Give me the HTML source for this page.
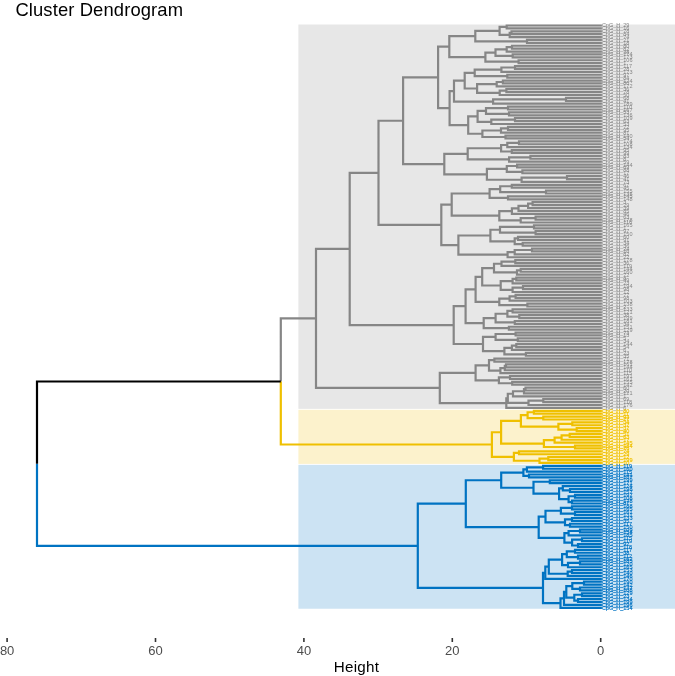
<!DOCTYPE html>
<html><head><meta charset="utf-8"><title>Cluster Dendrogram</title>
<style>
html,body{margin:0;padding:0;background:#fff;}
body{width:675px;height:676px;overflow:hidden;}
svg{display:block;will-change:transform;font-family:"Liberation Sans",sans-serif;}
.title{font-size:18.4px;fill:#000;letter-spacing:0.12px;}
.tick{font-size:13px;fill:#4D4D4D;}
.axt{font-size:15.2px;fill:#000;letter-spacing:0.3px;}
.lab{opacity:0.999;}
.lab text{font-size:5.5px;}
</style></head><body>
<svg width="675" height="676" viewBox="0 0 675 676">
<rect x="298.4" y="24.5" width="380" height="384.34" fill="#E7E7E7"/>
<rect x="298.4" y="409.8" width="380" height="54.09" fill="#FCF2CC"/>
<rect x="298.4" y="464.85" width="380" height="143.89" fill="#CCE3F3"/>
<path d="M316 318.46H280.8V381.49M349.7 248.95H316V387.97H439.8M378.5 172.8H349.7V325.1H453.7M403.1 120.74H378.5V224.86H441.3M438.1 77.38H403.1V164.09H444.3M449.3 46.67H438.1V108.1H449.6M475.3 36.17H449.3V57.17H485.4M499.6 30.92H475.3V41.42H527M506.7 26.94H499.6V34.9H509.7M601.9 25.49H506.7V28.38H601.9M511.5 32.73H509.7V37.08H601.9M601.9 31.28H511.5V34.18H601.9M601.9 39.97H527V42.87H601.9M495.5 52.65H485.4V61.7H518.6M506.7 49.39H495.5V55.91H512.7M512 47.21H506.7V51.56H601.9M601.9 45.77H512V48.66H601.9M601.9 54.46H512.7V57.35H601.9M601.9 60.25H518.6V63.15H601.9M454 91.12H449.6V125.07H468.2M464.7 80.71H454V101.53H493.1M474.7 72.93H464.7V88.5H477.1M501.4 69.67H474.7V76.18H507.3M515 67.49H501.4V71.84H601.9M601.9 66.05H515V68.94H601.9M601.9 74.74H507.3V77.63H601.9M496.7 84.15H477.1V92.84H499.7M502.9 81.98H496.7V86.32H601.9M601.9 80.53H502.9V83.43H601.9M506.4 90.67H499.7V95.02H601.9M601.9 89.22H506.4V92.12H601.9M566 99.36H493.1V103.71H601.9M601.9 97.91H566V100.81H601.9M477.6 116.38H468.2V133.76H482.4M486 110.95H477.6V121.81H491.3M508 108.05H486V113.85H509M601.9 106.6H508V109.5H601.9M601.9 112.4H509V115.29H601.9M515 119.64H491.3V123.98H601.9M601.9 118.19H515V121.09H601.9M501 130.5H482.4V137.02H505.5M508 128.33H501V132.68H601.9M601.9 126.88H508V129.78H601.9M601.9 135.57H505.5V138.47H601.9M467.7 153.86H444.3V174.32H486.9M501.1 148.25H467.7V159.47H509.1M507.3 144.99H501.1V151.51H511.8M519 142.82H507.3V147.16H601.9M601.9 141.37H519V144.26H601.9M601.9 150.06H511.8V152.95H601.9M530.4 157.3H509.1V161.65H601.9M601.9 155.85H530.4V158.75H601.9M506.8 168.89H486.9V179.75H521.6M517.1 165.99H506.8V171.79H522.4M601.9 164.54H517.1V167.44H601.9M601.9 170.34H522.4V173.23H601.9M567 177.58H521.6V181.92H601.9M601.9 176.13H567V179.03H601.9M451.7 204.6H441.3V245.12H458.4M489.6 193.51H451.7V215.69H499.3M500.2 189.17H489.6V197.86H508M511.8 186.27H500.2V192.06H546M601.9 184.82H511.8V187.72H601.9M601.9 190.62H546V193.51H601.9M601.9 196.41H508V199.31H601.9M511.9 211.08H499.3V220.31H520.7M518.5 208.36H511.9V213.79H601.9M528.1 205.83H518.5V210.89H601.9M532.6 203.65H528.1V208H601.9M601.9 202.2H532.6V205.1H601.9M535.6 218.14H520.7V222.48H601.9M601.9 216.69H535.6V219.59H601.9M490.4 235.52H458.4V254.71H507.6M500 229.73H490.4V241.31H514.7M534 226.83H500V232.62H535.6M601.9 225.38H534V228.28H601.9M601.9 231.17H535.6V234.07H601.9M518 238.42H514.7V244.21H522.7M601.9 236.97H518V239.86H601.9M601.9 242.76H522.7V245.66H601.9M514.7 252.18H507.6V257.25H601.9M532 250H514.7V254.35H601.9M601.9 248.56H532V251.45H601.9M465.6 306.22H453.7V343.98H483M475.6 289.3H465.6V323.15H483.7M482.2 276.8H475.6V301.79H499.3M494 268.11H482.2V285.49H500.7M501.5 263.77H494V272.46H517M515.3 261.59H501.5V265.94H601.9M601.9 260.14H515.3V263.04H601.9M520.7 270.28H517V274.63H601.9M601.9 268.83H520.7V271.73H601.9M512.6 281.15H500.7V289.84H512.6M516.3 278.97H512.6V283.32H601.9M601.9 277.53H516.3V280.42H601.9M523 287.67H512.6V292.01H601.9M601.9 286.22H523V289.11H601.9M509.6 298.53H499.3V305.05H527.4M515.6 296.36H509.6V300.7H601.9M601.9 294.91H515.6V297.8H601.9M601.9 303.6H527.4V306.5H601.9M495.6 318.08H483.7V328.22H508.9M507.4 313.74H495.6V322.43H514.8M512.6 310.84H507.4V316.64H519.3M601.9 309.39H512.6V312.29H601.9M601.9 315.19H519.3V318.08H601.9M601.9 320.98H514.8V323.88H601.9M601.9 326.77H508.9V329.67H601.9M495.6 336.91H483V351.04H504.4M515.6 334.02H495.6V339.81H517.8M601.9 332.57H515.6V335.47H601.9M601.9 338.36H517.8V341.26H601.9M511.9 347.78H504.4V354.3H525.9M516.3 345.61H511.9V349.95H601.9M601.9 344.16H516.3V347.05H601.9M601.9 352.85H525.9V355.74H601.9M475.6 372.86H439.8V403.09H506.3M489 365.34H475.6V380.37H498.9M494.4 360.09H489V370.59H500.4M601.9 358.64H494.4V361.54H601.9M504.8 368.06H500.4V373.13H601.9M506 365.88H504.8V370.23H601.9M601.9 364.44H506V367.33H601.9M510 377.47H498.9V383.27H512.2M601.9 376.02H510V378.92H601.9M601.9 381.82H512.2V384.71H601.9M507.8 398.29H506.3V407.89H601.9M513 393.77H507.8V402.82H528.5M524 391.23H513V396.3H601.9M525.5 389.06H524V393.41H601.9M601.9 387.61H525.5V390.51H601.9M543.3 400.65H528.5V404.99H601.9M601.9 399.2H543.3V402.1H601.9" fill="none" stroke="#868686" stroke-width="2.2" stroke-linejoin="miter" stroke-linecap="butt"/>
<path d="M280.8 381.49V444.51H491.9M501.1 432.24H491.9V456.78H513.9M520.9 420.93H501.1V443.56H543.9M527.6 415.13H520.9V426.72H558.4M533.9 412.24H527.6V418.03H543.3M601.9 410.79H533.9V413.68H601.9M601.9 416.58H543.3V419.48H601.9M572.3 423.82H558.4V429.62H576.7M601.9 422.38H572.3V425.27H601.9M601.9 428.17H576.7V431.07H601.9M554.6 440.12H543.9V447H575M561.6 437.59H554.6V442.65H601.9M569.7 435.41H561.6V439.76H601.9M601.9 433.96H569.7V436.86H601.9M601.9 445.55H575V448.45H601.9M519 452.79H513.9V460.76H539.5M601.9 451.35H519V454.24H601.9M548.3 458.59H539.5V462.93H601.9M601.9 457.14H548.3V460.04H601.9" fill="none" stroke="#EFC000" stroke-width="2.2" stroke-linejoin="miter" stroke-linecap="butt"/>
<path d="M37 463.65V545.82H417.8M465.8 503.72H417.8V587.91H543M501.2 480.23H465.8V527.21H538.7M523.4 472.71H501.2V487.74H533.5M526.9 469.45H523.4V475.97H529M543.1 467.28H526.9V471.62H601.9M601.9 465.83H543.1V468.73H601.9M601.9 474.52H529V477.42H601.9M549.8 481.76H533.5V493.71H559.1M601.9 480.32H549.8V483.21H601.9M562.8 488.28H559.1V499.15H568.6M601.9 486.11H562.8V490.46H570M601.9 489.01H570V491.9H601.9M575 496.25H568.6V502.04H572M601.9 494.8H575V497.7H601.9M601.9 500.59H572V503.49H601.9M545.5 516.53H538.7V537.89H564.4M560.9 510.73H545.5V522.32H565M572 507.84H560.9V513.63H575M601.9 506.39H572V509.29H601.9M601.9 512.18H575V515.08H601.9M572 519.43H565V525.22H570M601.9 517.98H572V520.87H601.9M601.9 523.77H570V526.67H601.9M568.6 533.19H564.4V542.6H572.1M580 531.01H568.6V535.36H601.9M601.9 529.56H580V532.46H601.9M582 539.7H572.1V545.5H578M601.9 538.26H582V541.15H601.9M601.9 544.05H578V546.95H601.9M545.3 572.75H543V603.08H560.5M548.8 566.68H545.3V578.81H601.9M562.1 559.62H548.8V573.74H567.7M566.8 554.19H562.1V565.05H568M575 551.29H566.8V557.09H578M601.9 549.84H575V552.74H601.9M601.9 555.64H578V558.53H601.9M580 562.88H568V567.23H601.9M601.9 561.43H580V564.33H601.9M572 571.57H567.7V575.92H601.9M601.9 570.12H572V573.02H601.9M564 598.37H560.5V607.78H601.9M566.3 591.85H564V604.89H601.9M572.3 586.06H566.3V597.64H574.3M584 583.16H572.3V588.95H580M601.9 581.71H584V584.61H601.9M601.9 587.5H580V590.4H601.9M582 594.75H574.3V600.54H578M601.9 593.3H582V596.2H601.9M601.9 599.09H578V601.99H601.9" fill="none" stroke="#0073C2" stroke-width="2.2" stroke-linejoin="miter" stroke-linecap="butt"/>
<path d="M280.8 381.49H37V463.65" fill="none" stroke="#000000" stroke-width="2.2" stroke-linejoin="miter" stroke-linecap="butt"/>
<g class="lab"><text x="601.9" y="27.49" fill="#868686" stroke="#868686" stroke-width="0">CpG_H_29</text><text x="601.9" y="30.38" fill="#868686" stroke="#868686" stroke-width="0">CpG_H_16</text><text x="601.9" y="33.28" fill="#868686" stroke="#868686" stroke-width="0">CpG_H_78</text><text x="601.9" y="36.18" fill="#868686" stroke="#868686" stroke-width="0">CpG_H_84</text><text x="601.9" y="39.08" fill="#868686" stroke="#868686" stroke-width="0">CpG_H_74</text><text x="601.9" y="41.97" fill="#868686" stroke="#868686" stroke-width="0">CpG_H_21</text><text x="601.9" y="44.87" fill="#868686" stroke="#868686" stroke-width="0">CpG_H_18</text><text x="601.9" y="47.77" fill="#868686" stroke="#868686" stroke-width="0">CpG_H_80</text><text x="601.9" y="50.66" fill="#868686" stroke="#868686" stroke-width="0">CpG_H_82</text><text x="601.9" y="53.56" fill="#868686" stroke="#868686" stroke-width="0">CpG_H_38</text><text x="601.9" y="56.46" fill="#868686" stroke="#868686" stroke-width="0">CpG_H_174</text><text x="601.9" y="59.35" fill="#868686" stroke="#868686" stroke-width="0">CpG_H_173</text><text x="601.9" y="62.25" fill="#868686" stroke="#868686" stroke-width="0">CpG_H_106</text><text x="601.9" y="65.15" fill="#868686" stroke="#868686" stroke-width="0">CpG_H_1</text><text x="601.9" y="68.05" fill="#868686" stroke="#868686" stroke-width="0">CpG_H_117</text><text x="601.9" y="70.94" fill="#868686" stroke="#868686" stroke-width="0">CpG_H_28</text><text x="601.9" y="73.84" fill="#868686" stroke="#868686" stroke-width="0">CpG_H_173</text><text x="601.9" y="76.74" fill="#868686" stroke="#868686" stroke-width="0">CpG_H_97</text><text x="601.9" y="79.63" fill="#868686" stroke="#868686" stroke-width="0">CpG_H_84</text><text x="601.9" y="82.53" fill="#868686" stroke="#868686" stroke-width="0">CpG_H_124</text><text x="601.9" y="85.43" fill="#868686" stroke="#868686" stroke-width="0">CpG_H_80</text><text x="601.9" y="88.32" fill="#868686" stroke="#868686" stroke-width="0">CpG_H_172</text><text x="601.9" y="91.22" fill="#868686" stroke="#868686" stroke-width="0">CpG_H_36</text><text x="601.9" y="94.12" fill="#868686" stroke="#868686" stroke-width="0">CpG_H_78</text><text x="601.9" y="97.02" fill="#868686" stroke="#868686" stroke-width="0">CpG_H_50</text><text x="601.9" y="99.91" fill="#868686" stroke="#868686" stroke-width="0">CpG_H_68</text><text x="601.9" y="102.81" fill="#868686" stroke="#868686" stroke-width="0">CpG_H_41</text><text x="601.9" y="105.71" fill="#868686" stroke="#868686" stroke-width="0">CpG_H_189</text><text x="601.9" y="108.6" fill="#868686" stroke="#868686" stroke-width="0">CpG_H_110</text><text x="601.9" y="111.5" fill="#868686" stroke="#868686" stroke-width="0">CpG_H_167</text><text x="601.9" y="114.4" fill="#868686" stroke="#868686" stroke-width="0">CpG_H_53</text><text x="601.9" y="117.29" fill="#868686" stroke="#868686" stroke-width="0">CpG_H_136</text><text x="601.9" y="120.19" fill="#868686" stroke="#868686" stroke-width="0">CpG_H_109</text><text x="601.9" y="123.09" fill="#868686" stroke="#868686" stroke-width="0">CpG_H_63</text><text x="601.9" y="125.98" fill="#868686" stroke="#868686" stroke-width="0">CpG_H_53</text><text x="601.9" y="128.88" fill="#868686" stroke="#868686" stroke-width="0">CpG_H_72</text><text x="601.9" y="131.78" fill="#868686" stroke="#868686" stroke-width="0">CpG_H_95</text><text x="601.9" y="134.68" fill="#868686" stroke="#868686" stroke-width="0">CpG_H_81</text><text x="601.9" y="137.57" fill="#868686" stroke="#868686" stroke-width="0">CpG_H_140</text><text x="601.9" y="140.47" fill="#868686" stroke="#868686" stroke-width="0">CpG_H_54</text><text x="601.9" y="143.37" fill="#868686" stroke="#868686" stroke-width="0">CpG_H_174</text><text x="601.9" y="146.26" fill="#868686" stroke="#868686" stroke-width="0">CpG_H_108</text><text x="601.9" y="149.16" fill="#868686" stroke="#868686" stroke-width="0">CpG_H_134</text><text x="601.9" y="152.06" fill="#868686" stroke="#868686" stroke-width="0">CpG_H_95</text><text x="601.9" y="154.95" fill="#868686" stroke="#868686" stroke-width="0">CpG_H_99</text><text x="601.9" y="157.85" fill="#868686" stroke="#868686" stroke-width="0">CpG_H_83</text><text x="601.9" y="160.75" fill="#868686" stroke="#868686" stroke-width="0">CpG_H_8</text><text x="601.9" y="163.65" fill="#868686" stroke="#868686" stroke-width="0">CpG_H_59</text><text x="601.9" y="166.54" fill="#868686" stroke="#868686" stroke-width="0">CpG_H_144</text><text x="601.9" y="169.44" fill="#868686" stroke="#868686" stroke-width="0">CpG_H_69</text><text x="601.9" y="172.34" fill="#868686" stroke="#868686" stroke-width="0">CpG_H_88</text><text x="601.9" y="175.23" fill="#868686" stroke="#868686" stroke-width="0">CpG_H_17</text><text x="601.9" y="178.13" fill="#868686" stroke="#868686" stroke-width="0">CpG_H_46</text><text x="601.9" y="181.03" fill="#868686" stroke="#868686" stroke-width="0">CpG_H_41</text><text x="601.9" y="183.92" fill="#868686" stroke="#868686" stroke-width="0">CpG_H_73</text><text x="601.9" y="186.82" fill="#868686" stroke="#868686" stroke-width="0">CpG_H_67</text><text x="601.9" y="189.72" fill="#868686" stroke="#868686" stroke-width="0">CpG_H_45</text><text x="601.9" y="192.62" fill="#868686" stroke="#868686" stroke-width="0">CpG_H_155</text><text x="601.9" y="195.51" fill="#868686" stroke="#868686" stroke-width="0">CpG_H_135</text><text x="601.9" y="198.41" fill="#868686" stroke="#868686" stroke-width="0">CpG_H_145</text><text x="601.9" y="201.31" fill="#868686" stroke="#868686" stroke-width="0">CpG_H_148</text><text x="601.9" y="204.2" fill="#868686" stroke="#868686" stroke-width="0">CpG_H_3</text><text x="601.9" y="207.1" fill="#868686" stroke="#868686" stroke-width="0">CpG_H_29</text><text x="601.9" y="210" fill="#868686" stroke="#868686" stroke-width="0">CpG_H_39</text><text x="601.9" y="212.89" fill="#868686" stroke="#868686" stroke-width="0">CpG_H_85</text><text x="601.9" y="215.79" fill="#868686" stroke="#868686" stroke-width="0">CpG_H_46</text><text x="601.9" y="218.69" fill="#868686" stroke="#868686" stroke-width="0">CpG_H_63</text><text x="601.9" y="221.59" fill="#868686" stroke="#868686" stroke-width="0">CpG_H_178</text><text x="601.9" y="224.48" fill="#868686" stroke="#868686" stroke-width="0">CpG_H_116</text><text x="601.9" y="227.38" fill="#868686" stroke="#868686" stroke-width="0">CpG_H_165</text><text x="601.9" y="230.28" fill="#868686" stroke="#868686" stroke-width="0">CpG_H_1</text><text x="601.9" y="233.17" fill="#868686" stroke="#868686" stroke-width="0">CpG_H_97</text><text x="601.9" y="236.07" fill="#868686" stroke="#868686" stroke-width="0">CpG_H_150</text><text x="601.9" y="238.97" fill="#868686" stroke="#868686" stroke-width="0">CpG_H_60</text><text x="601.9" y="241.86" fill="#868686" stroke="#868686" stroke-width="0">CpG_H_91</text><text x="601.9" y="244.76" fill="#868686" stroke="#868686" stroke-width="0">CpG_H_34</text><text x="601.9" y="247.66" fill="#868686" stroke="#868686" stroke-width="0">CpG_H_36</text><text x="601.9" y="250.56" fill="#868686" stroke="#868686" stroke-width="0">CpG_H_24</text><text x="601.9" y="253.45" fill="#868686" stroke="#868686" stroke-width="0">CpG_H_16</text><text x="601.9" y="256.35" fill="#868686" stroke="#868686" stroke-width="0">CpG_H_82</text><text x="601.9" y="259.25" fill="#868686" stroke="#868686" stroke-width="0">CpG_H_22</text><text x="601.9" y="262.14" fill="#868686" stroke="#868686" stroke-width="0">CpG_H_178</text><text x="601.9" y="265.04" fill="#868686" stroke="#868686" stroke-width="0">CpG_H_36</text><text x="601.9" y="267.94" fill="#868686" stroke="#868686" stroke-width="0">CpG_H_119</text><text x="601.9" y="270.83" fill="#868686" stroke="#868686" stroke-width="0">CpG_H_144</text><text x="601.9" y="273.73" fill="#868686" stroke="#868686" stroke-width="0">CpG_H_160</text><text x="601.9" y="276.63" fill="#868686" stroke="#868686" stroke-width="0">CpG_H_72</text><text x="601.9" y="279.53" fill="#868686" stroke="#868686" stroke-width="0">CpG_H_8</text><text x="601.9" y="282.42" fill="#868686" stroke="#868686" stroke-width="0">CpG_H_49</text><text x="601.9" y="285.32" fill="#868686" stroke="#868686" stroke-width="0">CpG_H_23</text><text x="601.9" y="288.22" fill="#868686" stroke="#868686" stroke-width="0">CpG_H_194</text><text x="601.9" y="291.11" fill="#868686" stroke="#868686" stroke-width="0">CpG_H_98</text><text x="601.9" y="294.01" fill="#868686" stroke="#868686" stroke-width="0">CpG_H_12</text><text x="601.9" y="296.91" fill="#868686" stroke="#868686" stroke-width="0">CpG_H_77</text><text x="601.9" y="299.8" fill="#868686" stroke="#868686" stroke-width="0">CpG_H_98</text><text x="601.9" y="302.7" fill="#868686" stroke="#868686" stroke-width="0">CpG_H_103</text><text x="601.9" y="305.6" fill="#868686" stroke="#868686" stroke-width="0">CpG_H_138</text><text x="601.9" y="308.5" fill="#868686" stroke="#868686" stroke-width="0">CpG_H_2</text><text x="601.9" y="311.39" fill="#868686" stroke="#868686" stroke-width="0">CpG_H_133</text><text x="601.9" y="314.29" fill="#868686" stroke="#868686" stroke-width="0">CpG_H_121</text><text x="601.9" y="317.19" fill="#868686" stroke="#868686" stroke-width="0">CpG_H_38</text><text x="601.9" y="320.08" fill="#868686" stroke="#868686" stroke-width="0">CpG_H_199</text><text x="601.9" y="322.98" fill="#868686" stroke="#868686" stroke-width="0">CpG_H_181</text><text x="601.9" y="325.88" fill="#868686" stroke="#868686" stroke-width="0">CpG_H_34</text><text x="601.9" y="328.77" fill="#868686" stroke="#868686" stroke-width="0">CpG_H_151</text><text x="601.9" y="331.67" fill="#868686" stroke="#868686" stroke-width="0">CpG_H_129</text><text x="601.9" y="334.57" fill="#868686" stroke="#868686" stroke-width="0">CpG_H_73</text><text x="601.9" y="337.47" fill="#868686" stroke="#868686" stroke-width="0">CpG_H_13</text><text x="601.9" y="340.36" fill="#868686" stroke="#868686" stroke-width="0">CpG_H_5</text><text x="601.9" y="343.26" fill="#868686" stroke="#868686" stroke-width="0">CpG_H_34</text><text x="601.9" y="346.16" fill="#868686" stroke="#868686" stroke-width="0">CpG_H_144</text><text x="601.9" y="349.05" fill="#868686" stroke="#868686" stroke-width="0">CpG_H_54</text><text x="601.9" y="351.95" fill="#868686" stroke="#868686" stroke-width="0">CpG_H_6</text><text x="601.9" y="354.85" fill="#868686" stroke="#868686" stroke-width="0">CpG_H_23</text><text x="601.9" y="357.74" fill="#868686" stroke="#868686" stroke-width="0">CpG_H_35</text><text x="601.9" y="360.64" fill="#868686" stroke="#868686" stroke-width="0">CpG_H_71</text><text x="601.9" y="363.54" fill="#868686" stroke="#868686" stroke-width="0">CpG_H_178</text><text x="601.9" y="366.44" fill="#868686" stroke="#868686" stroke-width="0">CpG_H_161</text><text x="601.9" y="369.33" fill="#868686" stroke="#868686" stroke-width="0">CpG_H_144</text><text x="601.9" y="372.23" fill="#868686" stroke="#868686" stroke-width="0">CpG_H_110</text><text x="601.9" y="375.13" fill="#868686" stroke="#868686" stroke-width="0">CpG_H_115</text><text x="601.9" y="378.02" fill="#868686" stroke="#868686" stroke-width="0">CpG_H_191</text><text x="601.9" y="380.92" fill="#868686" stroke="#868686" stroke-width="0">CpG_H_161</text><text x="601.9" y="383.82" fill="#868686" stroke="#868686" stroke-width="0">CpG_H_155</text><text x="601.9" y="386.71" fill="#868686" stroke="#868686" stroke-width="0">CpG_H_142</text><text x="601.9" y="389.61" fill="#868686" stroke="#868686" stroke-width="0">CpG_H_60</text><text x="601.9" y="392.51" fill="#868686" stroke="#868686" stroke-width="0">CpG_H_20</text><text x="601.9" y="395.41" fill="#868686" stroke="#868686" stroke-width="0">CpG_H_121</text><text x="601.9" y="398.3" fill="#868686" stroke="#868686" stroke-width="0">CpG_H_1</text><text x="601.9" y="401.2" fill="#868686" stroke="#868686" stroke-width="0">CpG_H_69</text><text x="601.9" y="404.1" fill="#868686" stroke="#868686" stroke-width="0">CpG_H_118</text><text x="601.9" y="406.99" fill="#868686" stroke="#868686" stroke-width="0">CpG_H_176</text><text x="601.9" y="409.89" fill="#868686" stroke="#868686" stroke-width="0">CpG_H_6</text><text x="601.9" y="412.79" fill="#EFC000" stroke="#EFC000" stroke-width="0.15">CpG_H_80</text><text x="601.9" y="415.68" fill="#EFC000" stroke="#EFC000" stroke-width="0.15">CpG_H_11</text><text x="601.9" y="418.58" fill="#EFC000" stroke="#EFC000" stroke-width="0.15">CpG_H_93</text><text x="601.9" y="421.48" fill="#EFC000" stroke="#EFC000" stroke-width="0.15">CpG_H_27</text><text x="601.9" y="424.38" fill="#EFC000" stroke="#EFC000" stroke-width="0.15">CpG_H_34</text><text x="601.9" y="427.27" fill="#EFC000" stroke="#EFC000" stroke-width="0.15">CpG_H_37</text><text x="601.9" y="430.17" fill="#EFC000" stroke="#EFC000" stroke-width="0.15">CpG_H_37</text><text x="601.9" y="433.07" fill="#EFC000" stroke="#EFC000" stroke-width="0.15">CpG_H_40</text><text x="601.9" y="435.96" fill="#EFC000" stroke="#EFC000" stroke-width="0.15">CpG_H_51</text><text x="601.9" y="438.86" fill="#EFC000" stroke="#EFC000" stroke-width="0.15">CpG_H_63</text><text x="601.9" y="441.76" fill="#EFC000" stroke="#EFC000" stroke-width="0.15">CpG_H_17</text><text x="601.9" y="444.65" fill="#EFC000" stroke="#EFC000" stroke-width="0.15">CpG_H_145</text><text x="601.9" y="447.55" fill="#EFC000" stroke="#EFC000" stroke-width="0.15">CpG_H_184</text><text x="601.9" y="450.45" fill="#EFC000" stroke="#EFC000" stroke-width="0.15">CpG_H_76</text><text x="601.9" y="453.35" fill="#EFC000" stroke="#EFC000" stroke-width="0.15">CpG_H_74</text><text x="601.9" y="456.24" fill="#EFC000" stroke="#EFC000" stroke-width="0.15">CpG_H_29</text><text x="601.9" y="459.14" fill="#EFC000" stroke="#EFC000" stroke-width="0.15">CpG_H_12</text><text x="601.9" y="462.04" fill="#EFC000" stroke="#EFC000" stroke-width="0.15">CpG_H_199</text><text x="601.9" y="464.93" fill="#EFC000" stroke="#EFC000" stroke-width="0.15">CpG_H_10</text><text x="601.9" y="467.83" fill="#0073C2" stroke="#0073C2" stroke-width="0.15">CpG_H_119</text><text x="601.9" y="470.73" fill="#0073C2" stroke="#0073C2" stroke-width="0.15">CpG_H_160</text><text x="601.9" y="473.62" fill="#0073C2" stroke="#0073C2" stroke-width="0.15">CpG_H_115</text><text x="601.9" y="476.52" fill="#0073C2" stroke="#0073C2" stroke-width="0.15">CpG_H_141</text><text x="601.9" y="479.42" fill="#0073C2" stroke="#0073C2" stroke-width="0.15">CpG_H_167</text><text x="601.9" y="482.32" fill="#0073C2" stroke="#0073C2" stroke-width="0.15">CpG_H_199</text><text x="601.9" y="485.21" fill="#0073C2" stroke="#0073C2" stroke-width="0.15">CpG_H_171</text><text x="601.9" y="488.11" fill="#0073C2" stroke="#0073C2" stroke-width="0.15">CpG_H_124</text><text x="601.9" y="491.01" fill="#0073C2" stroke="#0073C2" stroke-width="0.15">CpG_H_198</text><text x="601.9" y="493.9" fill="#0073C2" stroke="#0073C2" stroke-width="0.15">CpG_H_157</text><text x="601.9" y="496.8" fill="#0073C2" stroke="#0073C2" stroke-width="0.15">CpG_H_197</text><text x="601.9" y="499.7" fill="#0073C2" stroke="#0073C2" stroke-width="0.15">CpG_H_108</text><text x="601.9" y="502.59" fill="#0073C2" stroke="#0073C2" stroke-width="0.15">CpG_H_178</text><text x="601.9" y="505.49" fill="#0073C2" stroke="#0073C2" stroke-width="0.15">CpG_H_87</text><text x="601.9" y="508.39" fill="#0073C2" stroke="#0073C2" stroke-width="0.15">CpG_H_188</text><text x="601.9" y="511.29" fill="#0073C2" stroke="#0073C2" stroke-width="0.15">CpG_H_165</text><text x="601.9" y="514.18" fill="#0073C2" stroke="#0073C2" stroke-width="0.15">CpG_H_161</text><text x="601.9" y="517.08" fill="#0073C2" stroke="#0073C2" stroke-width="0.15">CpG_H_131</text><text x="601.9" y="519.98" fill="#0073C2" stroke="#0073C2" stroke-width="0.15">CpG_H_133</text><text x="601.9" y="522.87" fill="#0073C2" stroke="#0073C2" stroke-width="0.15">CpG_H_35</text><text x="601.9" y="525.77" fill="#0073C2" stroke="#0073C2" stroke-width="0.15">CpG_H_117</text><text x="601.9" y="528.67" fill="#0073C2" stroke="#0073C2" stroke-width="0.15">CpG_H_150</text><text x="601.9" y="531.56" fill="#0073C2" stroke="#0073C2" stroke-width="0.15">CpG_H_109</text><text x="601.9" y="534.46" fill="#0073C2" stroke="#0073C2" stroke-width="0.15">CpG_H_154</text><text x="601.9" y="537.36" fill="#0073C2" stroke="#0073C2" stroke-width="0.15">CpG_H_185</text><text x="601.9" y="540.26" fill="#0073C2" stroke="#0073C2" stroke-width="0.15">CpG_H_115</text><text x="601.9" y="543.15" fill="#0073C2" stroke="#0073C2" stroke-width="0.15">CpG_H_119</text><text x="601.9" y="546.05" fill="#0073C2" stroke="#0073C2" stroke-width="0.15">CpG_H_92</text><text x="601.9" y="548.95" fill="#0073C2" stroke="#0073C2" stroke-width="0.15">CpG_H_118</text><text x="601.9" y="551.84" fill="#0073C2" stroke="#0073C2" stroke-width="0.15">CpG_H_117</text><text x="601.9" y="554.74" fill="#0073C2" stroke="#0073C2" stroke-width="0.15">CpG_H_38</text><text x="601.9" y="557.64" fill="#0073C2" stroke="#0073C2" stroke-width="0.15">CpG_H_112</text><text x="601.9" y="560.53" fill="#0073C2" stroke="#0073C2" stroke-width="0.15">CpG_H_162</text><text x="601.9" y="563.43" fill="#0073C2" stroke="#0073C2" stroke-width="0.15">CpG_H_185</text><text x="601.9" y="566.33" fill="#0073C2" stroke="#0073C2" stroke-width="0.15">CpG_H_120</text><text x="601.9" y="569.23" fill="#0073C2" stroke="#0073C2" stroke-width="0.15">CpG_H_165</text><text x="601.9" y="572.12" fill="#0073C2" stroke="#0073C2" stroke-width="0.15">CpG_H_153</text><text x="601.9" y="575.02" fill="#0073C2" stroke="#0073C2" stroke-width="0.15">CpG_H_140</text><text x="601.9" y="577.92" fill="#0073C2" stroke="#0073C2" stroke-width="0.15">CpG_H_146</text><text x="601.9" y="580.81" fill="#0073C2" stroke="#0073C2" stroke-width="0.15">CpG_H_170</text><text x="601.9" y="583.71" fill="#0073C2" stroke="#0073C2" stroke-width="0.15">CpG_H_190</text><text x="601.9" y="586.61" fill="#0073C2" stroke="#0073C2" stroke-width="0.15">CpG_H_142</text><text x="601.9" y="589.5" fill="#0073C2" stroke="#0073C2" stroke-width="0.15">CpG_H_137</text><text x="601.9" y="592.4" fill="#0073C2" stroke="#0073C2" stroke-width="0.15">CpG_H_108</text><text x="601.9" y="595.3" fill="#0073C2" stroke="#0073C2" stroke-width="0.15">CpG_H_129</text><text x="601.9" y="598.2" fill="#0073C2" stroke="#0073C2" stroke-width="0.15">CpG_H_23</text><text x="601.9" y="601.09" fill="#0073C2" stroke="#0073C2" stroke-width="0.15">CpG_H_134</text><text x="601.9" y="603.99" fill="#0073C2" stroke="#0073C2" stroke-width="0.15">CpG_H_199</text><text x="601.9" y="606.89" fill="#0073C2" stroke="#0073C2" stroke-width="0.15">CpG_H_196</text><text x="601.9" y="609.78" fill="#0073C2" stroke="#0073C2" stroke-width="0.15">CpG_H_154</text></g>
<line x1="7.1" y1="638" x2="7.1" y2="642" stroke="#333333" stroke-width="1.6"/>
<text x="7.1" y="654.5" class="tick" text-anchor="middle">80</text>
<line x1="155.5" y1="638" x2="155.5" y2="642" stroke="#333333" stroke-width="1.6"/>
<text x="155.5" y="654.5" class="tick" text-anchor="middle">60</text>
<line x1="303.9" y1="638" x2="303.9" y2="642" stroke="#333333" stroke-width="1.6"/>
<text x="303.9" y="654.5" class="tick" text-anchor="middle">40</text>
<line x1="452.3" y1="638" x2="452.3" y2="642" stroke="#333333" stroke-width="1.6"/>
<text x="452.3" y="654.5" class="tick" text-anchor="middle">20</text>
<line x1="600.7" y1="638" x2="600.7" y2="642" stroke="#333333" stroke-width="1.6"/>
<text x="600.7" y="654.5" class="tick" text-anchor="middle">0</text>
<text x="356.5" y="671.6" class="axt" text-anchor="middle">Height</text>
<text x="15.4" y="15.6" class="title">Cluster Dendrogram</text>
</svg>
</body></html>
